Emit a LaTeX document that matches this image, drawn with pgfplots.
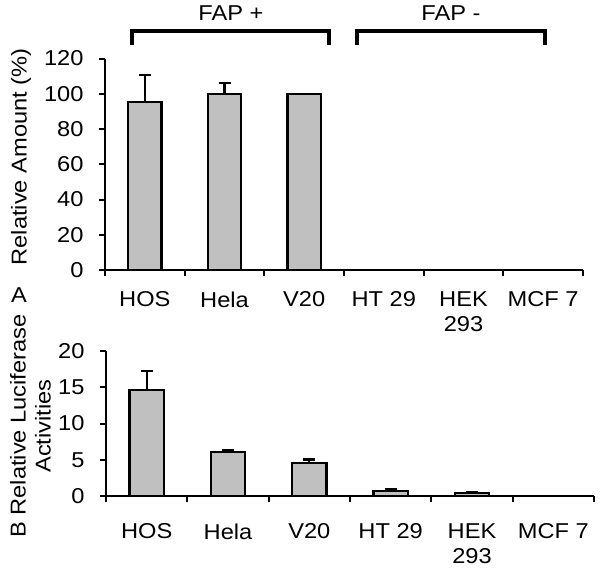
\documentclass[border=0pt]{standalone}
\usepackage{pgfplots}
\pgfplotsset{compat=1.18}
\usepackage{fontspec}
\setmainfont{Liberation Sans}[FakeStretch=1.1]
\definecolor{barfill}{RGB}{192,192,192}
\newcommand{\lf}{\fontsize{21.5}{25}\selectfont}
\pgfplotsset{
  base/.style={
    scale only axis,
    axis lines*=left,
    axis line style={line width=2.3pt, black},
    xmin=-0.5, xmax=5.5, ymin=0,
    tick align=outside,
    major tick length=6pt,
    tick style={line width=2pt, black},
    every tick label/.append style={font=\lf},
    yticklabel style={xshift=-12pt},
    /pgf/number format/assume math mode=true,
    xtick={-0.5,0.5,...,5.5},
    xticklabels={},
    extra x ticks={0,1,2,3,4,5},
    extra x tick labels={HOS,Hela,V20,HT 29,{HEK\\293},MCF 7},
    extra x tick style={major tick length=0pt, xticklabel style={align=center, anchor=north}},
  },
  barstyle/.style={ybar, bar width=0.42, bar shift=0pt, fill=barfill, draw=black, line width=2.3pt},
  errstyle/.style={
    error bars/y dir=plus, error bars/y explicit,
    error bars/error bar style={line width=2.3pt, black},
    error bars/error mark options={rotate=90, mark size=6pt, line width=2.3pt, black},
  },
}
\begin{document}
\begin{tikzpicture}
\useasboundingbox (0pt,0pt) rectangle (601pt,-573pt);
% Panel A
\begin{axis}[base,
  at={(105pt,-270pt)}, anchor=south west,
  width=478pt, height=211.5pt,
  ymax=120, ytick={0,20,...,120},
  extra x tick style={xticklabel style={yshift=-18pt}},
]
\addplot[barstyle, errstyle] coordinates {(0,95.5) +- (0,15.1) (1,99.7) +- (0,6.6)};
\addplot[barstyle] coordinates {(2,100)};
\end{axis}
% Panel B
\begin{axis}[base,
  at={(106pt,-496pt)}, anchor=south west,
  width=488pt, height=145pt,
  ymax=20, ytick={0,5,...,20},
  extra x tick style={xticklabel style={yshift=-24pt}},
]
\addplot[barstyle, errstyle] coordinates {(0,14.6) +- (0,2.6) (1,6.05) +- (0,0.25) (2,4.6) +- (0,0.45) (3,0.7) +- (0,0.25) (4,0.45) +- (0,0.05)};
\end{axis}
% axis titles, panel letter and group brackets
\node[font=\lf, rotate=90, anchor=center] at (21pt,-157pt) {Relative Amount (\%)};
\node[font=\lf, rotate=90, anchor=center, align=center] at (30.5pt,-426pt) {B Relative Luciferase\\Activities};
\node[font=\lf] at (19pt,-295pt) {A};
\draw[line width=4pt, line cap=rect] (132pt,-43pt) -- (132pt,-31pt) -- (329pt,-31pt) -- (329pt,-43pt);
\draw[line width=4pt, line cap=rect] (357pt,-43pt) -- (357pt,-31pt) -- (545pt,-31pt) -- (545pt,-43pt);
\node[font=\lf] at (231pt,-13.5pt) {FAP +};
\node[font=\lf] at (451pt,-13.5pt) {FAP -};
\end{tikzpicture}
\end{document}
